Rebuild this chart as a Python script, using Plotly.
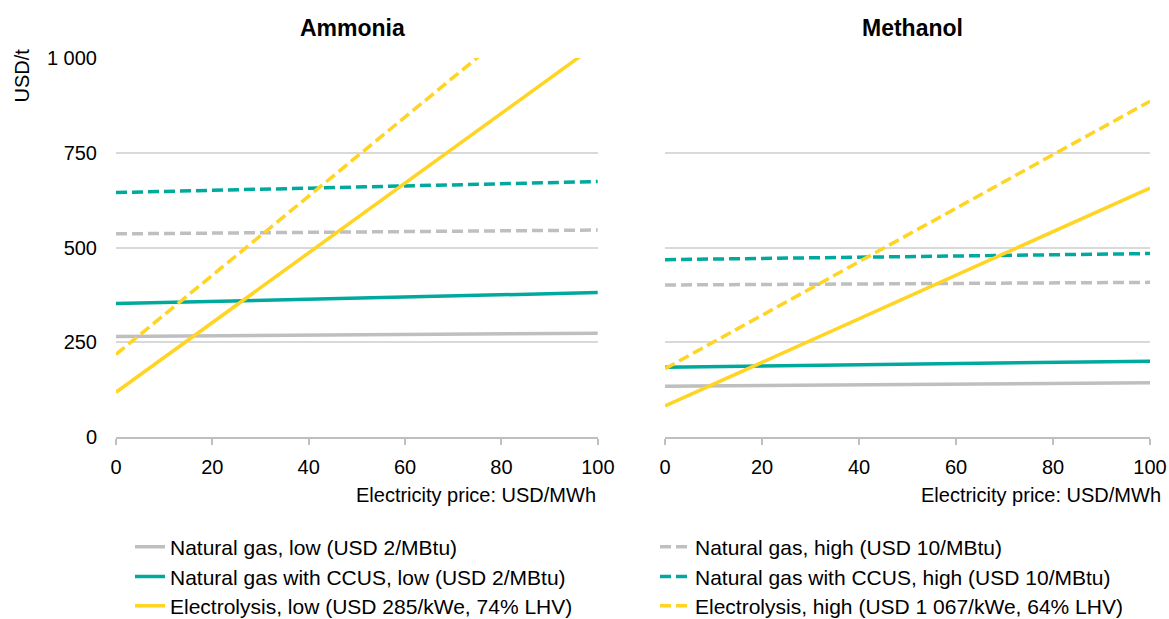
import plotly.graph_objects as go
from plotly.subplots import make_subplots

# Electricity price endpoints (USD/MWh)
price = [0, 100]

# Ammonia production cost, USD/t
amm_ng_low = [265, 274]
amm_ng_high = [536, 546]
amm_ccus_low = [352, 381]
amm_ccus_high = [645, 674]
amm_elec_low = [118, 1038]
amm_elec_high = [218, 1262]

# Methanol production cost, USD/t
meth_ng_low = [134, 143]
meth_ng_high = [401, 408]
meth_ccus_low = [184, 200]
meth_ccus_high = [468, 484]
meth_elec_low = [82, 657]
meth_elec_high = [180, 886]

y_ticks = [0, 250, 500, 750, 1000]
y_ticktext = ["0", "250", "500", "750", "1 000"]
x_ticks = [0, 20, 40, 60, 80, 100]

GREY = "#BFBFBF"
TEAL = "#00A99D"
YELLOW = "#FFD422"
FONT = "Liberation Sans, Arial, sans-serif"
DASH = "11px,5px"

series = [
    ("Natural gas, low (USD 2/MBtu)", amm_ng_low, meth_ng_low, GREY, "solid"),
    ("Natural gas, high (USD 10/MBtu)", amm_ng_high, meth_ng_high, GREY, DASH),
    ("Natural gas with CCUS, low (USD 2/MBtu)", amm_ccus_low, meth_ccus_low, TEAL, "solid"),
    ("Natural gas with CCUS, high (USD 10/MBtu)", amm_ccus_high, meth_ccus_high, TEAL, DASH),
    ("Electrolysis, low (USD 285/kWe, 74% LHV)", amm_elec_low, meth_elec_low, YELLOW, "solid"),
    ("Electrolysis, high (USD 1 067/kWe, 64% LHV)", amm_elec_high, meth_elec_high, YELLOW, DASH),
]

fig = make_subplots(rows=1, cols=2, horizontal_spacing=0.065)

# one legend per entry so the 2x3 grid sits where the reference has it
legend_ids = ["legend", "legend2", "legend3", "legend4", "legend5", "legend6"]
legend_x = [0.1112, 0.5603]
legend_y = [0.1163, 0.0679, 0.0210]

for i, (name, amm, meth, color, dash) in enumerate(series):
    fig.add_trace(
        go.Scatter(x=price, y=amm, mode="lines", name=name, legend=legend_ids[i],
                   line=dict(color=color, width=3.5, dash=dash)),
        row=1, col=1
    )
    fig.add_trace(
        go.Scatter(x=price, y=meth, mode="lines", name=name, showlegend=False,
                   line=dict(color=color, width=3.5, dash=dash)),
        row=1, col=2
    )

fig.update_xaxes(
    range=[0, 100], tickvals=x_ticks, showgrid=False, zeroline=False, automargin=False,
    showline=True, linecolor=GREY, linewidth=2,
    ticks="outside", ticklen=6, tickcolor=GREY, tickwidth=2, ticklabelstandoff=5,
    tickfont=dict(size=20, color="#000000")
)
fig.update_xaxes(domain=[0, 0.466], row=1, col=1)
fig.update_xaxes(domain=[0.531, 1.0], row=1, col=2)

fig.update_yaxes(
    range=[0, 1000], tickvals=y_ticks, ticktext=y_ticktext, automargin=False,
    showgrid=True, gridcolor="#D9D9D9", gridwidth=2, zeroline=False,
    showline=False, ticks="", ticklabelstandoff=18,
    tickfont=dict(size=20, color="#000000")
)
fig.update_yaxes(showticklabels=False, row=1, col=2)

annotations = [
    dict(text="<b>Ammonia</b>", x=0.229, y=1.079, xref="paper", yref="paper",
         xanchor="center", yanchor="middle", showarrow=False, font=dict(size=23)),
    dict(text="<b>Methanol</b>", x=0.770, y=1.079, xref="paper", yref="paper",
         xanchor="center", yanchor="middle", showarrow=False, font=dict(size=23)),
    dict(text="USD/t", x=-0.091, y=1.03, xref="paper", yref="paper", textangle=-90,
         xanchor="center", yanchor="top", showarrow=False, font=dict(size=20)),
    dict(text="Electricity price: USD/MWh", x=0.466, y=-0.153, xref="paper", yref="paper",
         xanchor="right", yanchor="middle", showarrow=False, font=dict(size=20)),
    dict(text="Electricity price: USD/MWh", x=1.0126, y=-0.153, xref="paper", yref="paper",
         xanchor="right", yanchor="middle", showarrow=False, font=dict(size=20)),
]

legends = {}
for i, lid in enumerate(legend_ids):
    legends[lid] = dict(
        orientation="h", xref="container", yref="container",
        x=legend_x[i % 2], y=legend_y[i // 2], xanchor="left", yanchor="middle",
        font=dict(size=21, color="#000000"), bgcolor="rgba(0,0,0,0)",
    )

fig.update_layout(
    width=1169, height=619,
    margin=dict(l=116, r=19, t=58, b=182),
    paper_bgcolor="white", plot_bgcolor="white",
    font=dict(family=FONT, color="#000000"),
    annotations=annotations,
    showlegend=True,
    **legends,
)

# drop the default 8px body margin so the figure fills the window exactly
fig.write_html("out.html", config={"displayModeBar": False},
               post_script="document.body.style.margin = '0';")
